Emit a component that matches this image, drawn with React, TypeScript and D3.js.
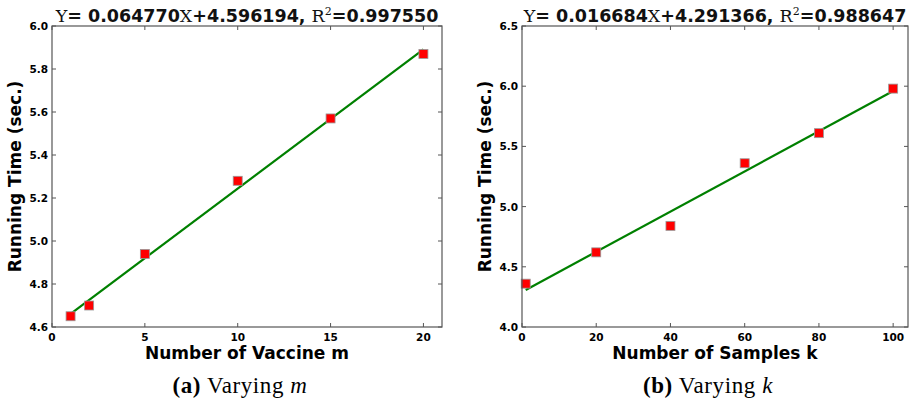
import React from "react";
import * as d3 from "d3";

// panel (a): varying number of vaccines m
const vaccineM = [1, 2, 5, 10, 15, 20];
const timeM = [4.65, 4.7, 4.94, 5.28, 5.57, 5.87];
const fitM = { slope: 0.06477, intercept: 4.596194, r2: "0.997550", slopeTxt: "0.064770", interTxt: "4.596194" };
const xTicksM = [0, 5, 10, 15, 20];
const yTicksM = [4.6, 4.8, 5.0, 5.2, 5.4, 5.6, 5.8, 6.0];

// panel (b): varying number of samples k
const samplesK = [1, 20, 40, 60, 80, 100];
const timeK = [4.36, 4.62, 4.84, 5.36, 5.61, 5.98];
const fitK = { slope: 0.016684, intercept: 4.291366, r2: "0.988647", slopeTxt: "0.016684", interTxt: "4.291366" };
const xTicksK = [0, 20, 40, 60, 80, 100];
const yTicksK = [4.0, 4.5, 5.0, 5.5, 6.0, 6.5];

const SANS = "'DejaVu Sans', sans-serif";
const SERIF = "'DejaVu Serif', serif";
const CAPTION = "'Liberation Serif', serif";

type PanelProps = {
  left: number;
  right: number;
  xs: number[];
  ys: number[];
  xDomain: [number, number];
  yDomain: [number, number];
  xTicks: number[];
  yTicks: number[];
  yFmt: string;
  fit: typeof fitM;
  xLabel: string;
  capLetter: string;
  capVar: string;
  yLabelX: number;
};

function Panel(p: PanelProps) {
  const top = 26;
  const bottom = 327;
  const x = d3.scaleLinear().domain(p.xDomain).range([p.left, p.right]);
  const y = d3.scaleLinear().domain(p.yDomain).range([bottom, top]);
  const fmt = d3.format(p.yFmt);
  const x0 = p.xs[0];
  const x1 = p.xs[p.xs.length - 1];
  const line = d3
    .line<number>()
    .x((d) => x(d))
    .y((d) => y(p.fit.slope * d + p.fit.intercept));
  const cx = (p.left + p.right) / 2;
  const tl = 4;
  const ms = 9;

  return (
    <g>
      {/* regression line */}
      <path d={line([x0, x1]) || ""} fill="none" stroke="#008000" strokeWidth={2.2} />
      {/* data points */}
      {p.xs.map((d, i) => (
        <rect
          key={i}
          x={x(d) - ms / 2}
          y={y(p.ys[i]) - ms / 2}
          width={ms}
          height={ms}
          fill="#ff0000"
          stroke="#999"
          strokeWidth={0.8}
        />
      ))}
      {/* frame */}
      <rect x={p.left} y={top} width={p.right - p.left} height={bottom - top} fill="none" stroke="#555" strokeWidth={1.2} />
      {/* x ticks */}
      {p.xTicks.map((t) => (
        <g key={"x" + t}>
          <line x1={x(t)} x2={x(t)} y1={bottom} y2={bottom - tl} stroke="#555" />
          <line x1={x(t)} x2={x(t)} y1={top} y2={top + tl} stroke="#555" />
          <text x={x(t)} y={bottom + 14} textAnchor="middle" fontFamily={SANS} fontWeight="bold" fontSize={10.5}>
            {t}
          </text>
        </g>
      ))}
      {/* y ticks */}
      {p.yTicks.map((t) => (
        <g key={"y" + t}>
          <line x1={p.left} x2={p.left + tl} y1={y(t)} y2={y(t)} stroke="#555" />
          <line x1={p.right} x2={p.right - tl} y1={y(t)} y2={y(t)} stroke="#555" />
          <text x={p.left - 4} y={y(t) + 4} textAnchor="end" fontFamily={SANS} fontWeight="bold" fontSize={10.5}>
            {fmt(t)}
          </text>
        </g>
      ))}
      {/* title */}
      <text x={cx} y={22} textAnchor="middle" fontSize={17.5} fill="#111">
        <tspan fontFamily={SERIF}>Y</tspan>
        <tspan fontFamily={SANS} fontWeight="bold">{"= " + p.fit.slopeTxt}</tspan>
        <tspan fontFamily={SERIF}>X</tspan>
        <tspan fontFamily={SANS} fontWeight="bold">{"+" + p.fit.interTxt + ", "}</tspan>
        <tspan fontFamily={SERIF}>R</tspan>
        <tspan fontFamily={SERIF} fontSize={11} dy={-7}>2</tspan>
        <tspan fontFamily={SANS} fontWeight="bold" dy={7}>{"=" + p.fit.r2}</tspan>
      </text>
      {/* axis labels */}
      <text x={cx} y={359} textAnchor="middle" fontFamily={SANS} fontWeight="bold" fontSize={17}>
        {p.xLabel}
      </text>
      <text
        transform={`translate(${p.yLabelX},${(top + bottom) / 2}) rotate(-90)`}
        textAnchor="middle"
        fontFamily={SANS}
        fontWeight="bold"
        fontSize={17}
      >
        Running Time (sec.)
      </text>
      {/* caption */}
      <text x={cx - 7} y={393} textAnchor="middle" fontFamily={CAPTION} fontSize={23} letterSpacing={0.6}>
        <tspan fontWeight="bold">{"(" + p.capLetter + ")"}</tspan>
        <tspan>{" Varying "}</tspan>
        <tspan fontStyle="italic">{p.capVar}</tspan>
      </text>
    </g>
  );
}

export default function App() {
  return (
    <svg width={914} height={404} style={{ position: "absolute", left: 0, top: 0, background: "#fff" }}>
      <rect width={914} height={404} fill="#fff" />
      <Panel
        left={52}
        right={442}
        xs={vaccineM}
        ys={timeM}
        xDomain={[0, 21]}
        yDomain={[4.6, 6.0]}
        xTicks={xTicksM}
        yTicks={yTicksM}
        yFmt=".1f"
        fit={fitM}
        xLabel="Number of Vaccine m"
        capLetter="a"
        capVar="m"
        yLabelX={21}
      />
      <Panel
        left={522}
        right={908}
        xs={samplesK}
        ys={timeK}
        xDomain={[0, 104]}
        yDomain={[4.0, 6.5]}
        xTicks={xTicksK}
        yTicks={yTicksK}
        yFmt=".1f"
        fit={fitK}
        xLabel="Number of Samples k"
        capLetter="b"
        capVar="k"
        yLabelX={491}
      />
    </svg>
  );
}
